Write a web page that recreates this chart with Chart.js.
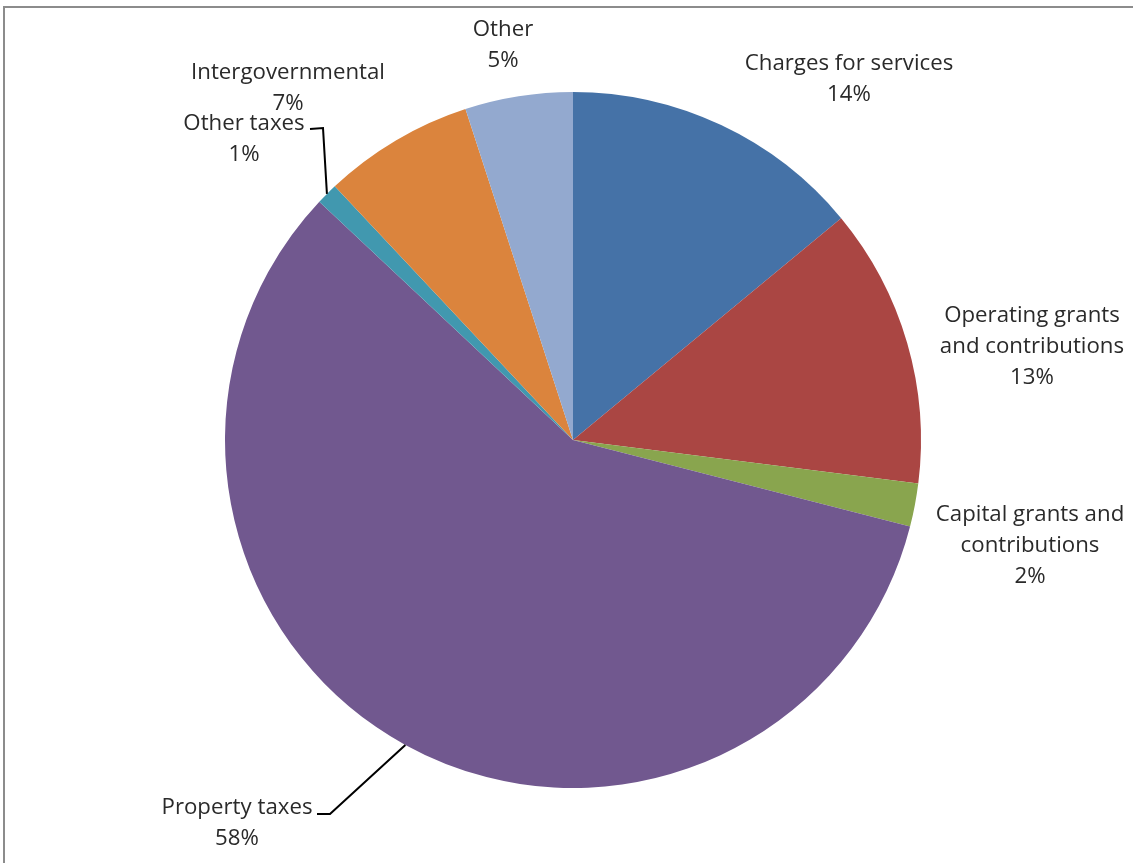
<!DOCTYPE html>
<html>
<head>
<meta charset="utf-8">
<script src="https://cdn.jsdelivr.net/npm/chart.js@4/dist/chart.umd.min.js"></script>
<style>
  html, body { margin: 0; padding: 0; background: #ffffff; }
  #wrap { position: relative; width: 1133px; height: 863px; }
</style>
</head>
<body>
<div id="wrap"><canvas id="c" width="1133" height="863"></canvas></div>
<script>
// Revenue sources (share of total, %)
const categories = [
  ['Charges for services'],
  ['Operating grants', 'and contributions'],
  ['Capital grants and', 'contributions'],
  ['Property taxes'],
  ['Other taxes'],
  ['Intergovernmental'],
  ['Other']
];
const shares = [14, 13, 2, 58, 1, 7, 5];
const sliceColors = ['#4572A7', '#AA4643', '#89A54E', '#71588F', '#4198AF', '#DB843D', '#93A9CF'];

// Where each data label's first line is centred
const labelAnchors = [[849, 64], [1032, 316], [1030, 515], [237, 808], [244, 124], [288, 73], [503, 30]];
// Leader lines: start point and elbow, ending on the slice edge
const leaders = [
  { index: 4, start: [310, 129], elbow: [323, 128] },
  { index: 3, start: [317, 814], elbow: [330, 814] }
];

const FONT = '21px "Open Sans", Lato, sans-serif';
const TEXT_STRETCH = 1.06;
const LINE_H = 31;

const framePlugin = {
  id: 'frame',
  beforeDraw(chart) {
    const ctx = chart.ctx;
    ctx.save();
    ctx.strokeStyle = '#8c8c8c';
    ctx.lineWidth = 2;
    ctx.beginPath();
    ctx.moveTo(4, chart.height);
    ctx.lineTo(4, 7);
    ctx.lineTo(chart.width, 7);
    ctx.stroke();
    ctx.restore();
  }
};

const labelPlugin = {
  id: 'sliceLabels',
  afterDraw(chart) {
    const ctx = chart.ctx;
    const data = chart.data.datasets[0].data;
    const total = data.reduce((a, b) => a + b, 0);
    const arcs = chart.getDatasetMeta(0).data;
    ctx.save();
    ctx.font = FONT;
    ctx.fillStyle = '#2a2a2a';
    ctx.textAlign = 'center';
    ctx.textBaseline = 'middle';
    chart.data.labels.forEach((lines, i) => {
      const [x, y] = labelAnchors[i];
      const all = lines.concat([Math.round(data[i] / total * 100) + '%']);
      all.forEach((t, k) => {
        ctx.save();
        ctx.translate(x, y + k * LINE_H);
        ctx.scale(TEXT_STRETCH, 1);
        ctx.fillText(t, 0, 0);
        ctx.restore();
      });
    });
    ctx.strokeStyle = '#000000';
    ctx.lineWidth = 2;
    leaders.forEach(l => {
      const arc = arcs[l.index];
      const mid = (arc.startAngle + arc.endAngle) / 2;
      const ex = arc.x + Math.cos(mid) * arc.outerRadius;
      const ey = arc.y + Math.sin(mid) * arc.outerRadius;
      ctx.beginPath();
      ctx.moveTo(l.start[0], l.start[1]);
      ctx.lineTo(l.elbow[0], l.elbow[1]);
      ctx.lineTo(ex, ey);
      ctx.stroke();
    });
    ctx.restore();
  }
};

new Chart(document.getElementById('c'), {
  type: 'pie',
  data: {
    labels: categories,
    datasets: [{
      data: shares,
      backgroundColor: sliceColors,
      borderWidth: 0
    }]
  },
  options: {
    responsive: false,
    animation: false,
    layout: { padding: { left: 225, right: 212, top: 92, bottom: 75 } },
    plugins: {
      legend: { display: false },
      tooltip: { enabled: false }
    }
  },
  plugins: [framePlugin, labelPlugin]
});
</script>
</body>
</html>
